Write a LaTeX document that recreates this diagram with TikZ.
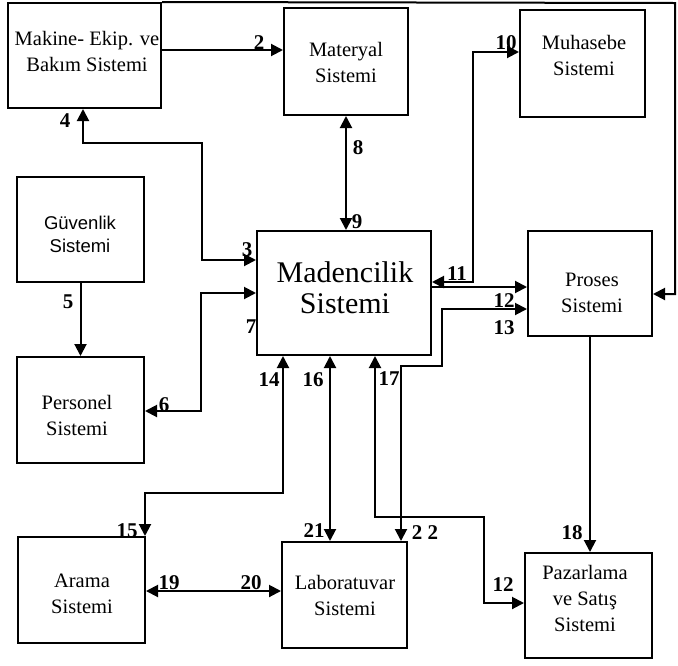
\documentclass[tikz,border=0pt]{standalone}
\usepackage{fontspec}
\setmainfont{Liberation Serif}
\newfontfamily\gsans{Liberation Sans}
\usetikzlibrary{arrows.meta}
\begin{document}
\begin{tikzpicture}[x=1pt,y=-1pt,
  sysbox/.style 2 args={draw, line width=2pt, minimum width=#1pt, minimum height=#2pt, inner sep=0pt},
  btxt/.style={align=center, inner sep=0pt, font=\fontsize{20.5}{26}\selectfont},
  bigtxt/.style={align=center, inner sep=0pt, font=\fontsize{30}{31}\selectfont},
  stxt/.style={align=center, inner sep=0pt, font=\gsans\fontsize{18.5}{23}\selectfont},
  num/.style={inner sep=0pt, font=\fontsize{21}{21}\selectfont\bfseries},
  conn/.style={line width=2pt},
  >={Triangle[length=12pt,width=12pt]}]
\useasboundingbox (0,0) rectangle (678,665);
% boxes
\node[sysbox={153}{105}] (mak) at (84.5,55.5) {};
\node[sysbox={124}{107}] (mat) at (346,61.5) {};
\node[sysbox={125}{107}] (muh) at (582.5,63.5) {};
\node[sysbox={127}{105}] (guv) at (80.5,229.5) {};
\node[sysbox={127}{106}] (per) at (80.5,410) {};
\node[sysbox={174}{124}] (mad) at (344,293) {};
\node[sysbox={124}{105}] (pro) at (590,283.5) {};
\node[sysbox={127}{106}] (ara) at (81.5,590) {};
\node[sysbox={125}{106}] (lab) at (344.5,595) {};
\node[sysbox={127}{105}] (paz) at (588.5,605.5) {};
% texts
\node[btxt] (makT) at (87,51.5) {Makine- Ekip. ve\\Bakım Sistemi};
\node[btxt] (matT) at (346,62) {Materyal\\Sistemi};
\node[btxt] (muhT) at (584,55) {Muhasebe\\Sistemi};
\node[stxt] (guvT) at (80,234) {Güvenlik\\Sistemi};
\node[btxt] (perT) at (77,415) {Personel\\Sistemi};
\node[bigtxt] (madT) at (345,288) {Madencilik\\Sistemi};
\node[btxt] (proT) at (592,292.5) {Proses\\Sistemi};
\node[btxt] (araT) at (82,594) {Arama\\Sistemi};
\node[btxt] (labT) at (345,595) {Laboratuvar\\Sistemi};
\node[btxt] (pazT) at (585,598) {Pazarlama\\ve Satış\\Sistemi};
% bend coordinates
\coordinate (k1) at (220,50);
\coordinate (k2a) at (675,3);
\coordinate (k2b) at (675,294);
\coordinate (k3a) at (83,143);
\coordinate (k3b) at (202,143);
\coordinate (k3c) at (202,260);
\coordinate (k5a) at (201,293);
\coordinate (k5b) at (201,411);
\coordinate (k7a) at (473,282);
\coordinate (k7b) at (473,52);
\coordinate (k8) at (480,287);
\coordinate (k9a) at (442,309);
\coordinate (k9b) at (442,366);
\coordinate (k9c) at (401,366);
\coordinate (k10a) at (283,493);
\coordinate (k10b) at (145,493);
\coordinate (k11) at (330,450);
\coordinate (k12a) at (375,517);
\coordinate (k12b) at (484,517);
\coordinate (k12c) at (484,603);
\coordinate (k14) at (200,591);
% connectors
\draw[conn,->] (mak.east |- k1) -- (mat.west |- k1);
\draw[conn,->] (mak.north east) -- (k2a) -- (k2b) -- (pro.east |- k2b);
\draw[conn,<->] (mak.south -| k3a) -- (k3a) -- (k3b) -- (k3c) -- (mad.west |- k3c);
\draw[conn,->] (guv.south) -- (per.north);
\draw[conn,<->] (per.east |- k5b) -- (k5b) -- (k5a) -- (mad.west |- k5a);
\draw[conn,<->] (mat.south) -- (mad.north -| mat.south);
\draw[conn,<->] (mad.east |- k7a) -- (k7a) -- (k7b) -- (muh.west |- k7b);
\draw[conn,->] (mad.east |- k8) -- (pro.west |- k8);
\draw[conn,<->] (pro.west |- k9a) -- (k9a) -- (k9b) -- (k9c) -- (lab.north -| k9c);
\draw[conn,<->] (mad.south -| k10a) -- (k10a) -- (k10b) -- (ara.north -| k10b);
\draw[conn,<->] (mad.south -| k11) -- (lab.north -| k11);
\draw[conn,<->] (mad.south -| k12a) -- (k12a) -- (k12b) -- (k12c) -- (paz.west |- k12c);
\draw[conn,->] (pro.south) -- (paz.north -| pro.south);
\draw[conn,<->] (ara.east |- k14) -- (lab.west |- k14);
% labels
\node[num] (n2) at (259,43) {2};
\node[num] (n4) at (65,121) {4};
\node[num] (n3) at (247,250) {3};
\node[num] (n5) at (68,302) {5};
\node[num] (n6) at (164,405) {6};
\node[num] (n7) at (251,327) {7};
\node[num] (n8) at (358,148) {8};
\node[num] (n9) at (357,222) {9};
\node[num] (n10) at (506,43) {10};
\node[num] (n11) at (457,274) {11};
\node[num] (n12) at (504,301) {12};
\node[num] (n13) at (504,328) {13};
\node[num] (n14) at (269,380) {14};
\node[num] (n16) at (313,380) {16};
\node[num] (n17) at (389,379) {17};
\node[num] (n15) at (127,531) {15};
\node[num] (n21) at (314,531) {21};
\node[num] (n22) at (425,533) {2 2};
\node[num] (n18) at (572,533) {18};
\node[num] (n12b) at (503,585) {12};
\node[num] (n19) at (169,583) {19};
\node[num] (n20) at (251,583) {20};
\end{tikzpicture}
\end{document}
